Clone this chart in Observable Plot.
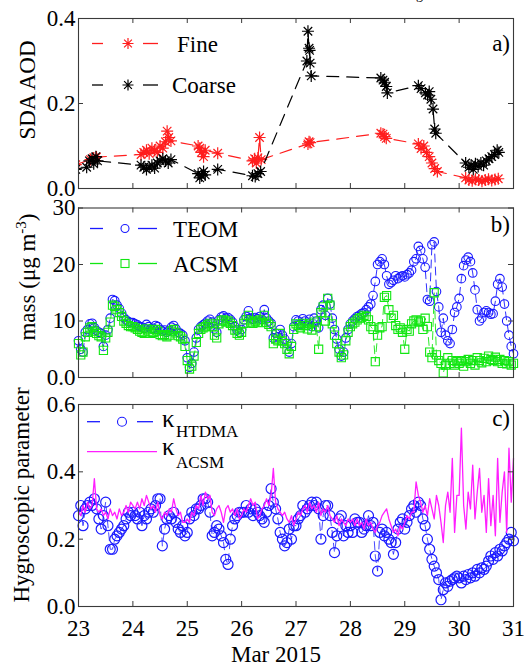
<!DOCTYPE html>
<html>
<head>
<meta charset="utf-8">
<script src="https://cdn.jsdelivr.net/npm/d3@7"></script>
<script src="https://cdn.jsdelivr.net/npm/@observablehq/plot@0.6"></script>
<style>
html,body{margin:0;padding:0;background:#fff;}
#wrap{position:relative;width:526px;height:666px;overflow:hidden;background:#fff;font-family:"Liberation Serif","Times New Roman",serif;color:#000;}
#wrap svg{position:absolute;left:0;overflow:visible;background:transparent;font-family:"Liberation Serif","Times New Roman",serif !important;}
#wrap svg text, #wrap svg tspan, #wrap svg g{font-family:"Liberation Serif","Times New Roman",serif !important;}
#cap{position:absolute;top:-23px;left:0;width:526px;height:20px;font-size:20px;line-height:20px;white-space:nowrap;}
#cap span{position:absolute;top:0;}
</style>
</head>
<body>
<div id="wrap"><div id="cap"><span style="left:-16px">ing and the</span><span style="left:133px">hygroscopic</span><span style="left:245px">properties of the</span><span style="left:390px">(κ<sub style="font-size:14px">sig</sub>)</span></div></div>
<script>
// ---------------- DATA ----------------
const xTicks = [23, 24, 25, 26, 27, 28, 29, 30, 31];
const yTicksA = [0, 0.2, 0.4];
const yTicksB = [0, 10, 20, 30];
const yTickLabelsB = ["0.0", "10", "20", "30"];
const yTicksC = [0, 0.2, 0.4, 0.6];

// panel a: SDA AOD (day of March 2015)
const fineTime = [22.95, 23.22, 23.28, 23.33, 24.15, 24.2, 24.25, 24.3, 24.35, 24.4, 24.45, 24.5, 24.55, 24.6, 24.63, 24.66, 24.7,
  25.2, 25.23, 25.26, 25.3, 25.33, 25.56, 26.2, 26.24, 26.27, 26.3, 26.33, 26.36, 27.22, 27.24, 27.26,
  28.56, 28.6, 28.63, 28.66, 29.25, 29.3, 29.35, 29.4, 29.45, 29.5, 29.55, 29.6,
  30.12, 30.18, 30.24, 30.3, 30.36, 30.42, 30.48, 30.54, 30.6, 30.66, 30.72];
const fineAOD = [0.056, 0.068, 0.072, 0.074, 0.08, 0.085, 0.09, 0.082, 0.095, 0.09, 0.085, 0.1, 0.095, 0.11, 0.135, 0.12, 0.112,
  0.1, 0.095, 0.085, 0.075, 0.09, 0.083, 0.065, 0.07, 0.06, 0.072, 0.12, 0.068, 0.105, 0.11, 0.108,
  0.13, 0.128, 0.122, 0.118, 0.105, 0.094, 0.1, 0.085, 0.075, 0.06, 0.047, 0.04,
  0.025, 0.02, 0.018, 0.022, 0.02, 0.017, 0.02, 0.022, 0.019, 0.021, 0.023];
const coarseTime = [22.95, 23.15, 23.2, 23.25, 23.28, 23.32, 23.35, 24.15, 24.2, 24.25, 24.3, 24.35, 24.4, 24.45, 24.5, 24.55, 24.6, 24.65, 24.7,
  25.2, 25.23, 25.26, 25.3, 25.33, 25.56, 26.2, 26.25, 26.3, 26.35, 27.2, 27.22, 27.24, 27.25, 27.26, 27.28,
  28.56, 28.6, 28.63, 28.66, 28.68, 29.25, 29.3, 29.38, 29.42, 29.45, 29.48, 29.52, 29.55, 29.57,
  30.12, 30.18, 30.22, 30.26, 30.3, 30.35, 30.4, 30.45, 30.5, 30.55, 30.6, 30.65, 30.7, 30.73];
const coarseAOD = [0.045, 0.05, 0.065, 0.07, 0.058, 0.075, 0.065, 0.055, 0.05, 0.045, 0.05, 0.055, 0.048, 0.06, 0.065, 0.07, 0.065, 0.06, 0.068,
  0.035, 0.025, 0.03, 0.04, 0.032, 0.045, 0.03, 0.028, 0.035, 0.04, 0.30, 0.37, 0.33, 0.325, 0.295, 0.265,
  0.26, 0.255, 0.25, 0.24, 0.225, 0.242, 0.235, 0.225, 0.22, 0.228, 0.21, 0.187, 0.14, 0.13,
  0.06, 0.05, 0.055, 0.045, 0.058, 0.052, 0.06, 0.055, 0.065, 0.07, 0.075, 0.08, 0.09, 0.085];

// hourly series starting 23 Mar 00:00, one value per hour up to 31 Mar 00:00
const seriesStartDay = 23;
const teomMass = [
  6.5, 5.0, 4.5, 8.0, 8.5, 9.5, 9.6, 8.8, 8.3, 8.0, 7.8, 5.5, 7.5, 8.5, 10.5, 13.8, 13.6, 12.8, 12.2, 11.4, 10.6, 10.2, 9.9, 9.7,
  9.7, 9.5, 9.3, 9.0, 8.9, 8.7, 9.4, 9.0, 8.6, 8.7, 9.2, 9.0, 8.5, 8.2, 8.4, 8.0, 8.3, 8.9, 9.2, 8.6, 8.0, 7.8, 7.5, 6.5,
  3.5, 1.8, 2.5, 4.5, 7.0, 8.5, 9.0, 9.3, 9.6, 10.0, 10.3, 9.8, 8.6, 8.0, 10.2, 10.7, 10.9, 10.5, 10.6, 10.3, 9.8, 9.0, 8.4, 8.0,
  8.5, 10.2, 10.8, 11.8, 10.5, 10.3, 10.6, 10.4, 10.8, 10.3, 12.0, 10.5, 10.0, 9.6, 7.0, 7.8, 7.2, 8.5, 7.5, 6.8, 6.0, 4.5, 6.0, 9.0,
  10.2, 10.0, 9.4, 10.4, 10.0, 9.2, 10.3, 9.0, 10.5, 10.0, 8.8, 12.0, 12.8, 11.0, 14.0, 13.0, 10.5, 8.5, 6.8, 5.0, 3.8, 4.5, 7.0, 8.5,
  9.5, 10.0, 10.4, 10.8, 11.0, 11.3, 11.5, 12.0, 12.5, 13.0, 14.5, 17.0, 20.0, 20.5, 21.0, 20.0, 18.0, 16.5, 16.8, 17.2, 18.0, 17.5, 17.8, 18.0,
  17.8, 18.2, 18.5, 19.0, 20.5, 21.0, 23.2, 22.5, 21.0, 19.5, 13.8, 13.5, 23.5, 24.0, 15.2, 12.5, 8.0, 10.5, 7.5, 6.5, 6.0, 8.5, 11.5, 12.5,
  14.0, 17.5, 19.8, 20.8, 21.3, 20.5, 18.5, 15.5, 12.0, 10.0, 10.5, 11.5, 11.8, 11.5, 11.2, 11.3, 13.5, 16.5, 17.5, 16.0, 13.0, 10.0, 7.5, 5.5,
  4.2];
const acsmMass = [
  6.0, 4.0, 4.5, 7.2, 8.0, 8.8, 9.0, 8.2, 7.8, 7.4, 7.2, 4.8, 7.0, 8.0, 9.8, 12.8, 12.6, 12.0, 11.5, 10.8, 10.0, 9.6, 9.2, 9.0,
  9.0, 8.8, 8.5, 8.2, 8.0, 7.8, 8.6, 8.2, 7.8, 8.0, 8.5, 8.2, 7.6, 7.4, 7.6, 7.2, 7.5, 8.2, 8.5, 7.9, 7.4, 7.2, 6.8, 5.5,
  3.0, 1.5, 2.0, 3.8, 6.2, 7.8, 8.5, 8.8, 9.0, 9.3, 9.6, 9.0, 7.5, 7.0, 9.5, 10.0, 10.2, 9.8, 10.0, 9.6, 9.2, 8.4, 7.8, 7.5,
  8.0, 9.6, 10.2, 11.0, 9.8, 9.6, 10.0, 9.8, 10.2, 9.7, 11.0, 9.8, 9.4, 9.0, 6.0, 6.8, 6.5, 7.8, 6.5, 6.0, 5.0, 4.2, 5.5, 8.5,
  9.5, 9.2, 8.8, 9.6, 9.2, 8.6, 9.5, 8.4, 9.8, 9.0, 5.0, 11.5, 12.5, 10.0, 14.0, 12.8, 9.5, 7.5, 6.0, 4.5, 3.5, 4.0, 6.5, 8.0,
  9.0, 9.5, 9.8, 10.2, 10.5, 10.6, 11.0, 10.8, 10.2, 9.0, 8.5, 2.8, 7.5, 8.8, 9.0, 14.2, 14.5, 12.0, 10.5, 11.0, 9.2, 8.5, 8.8, 8.0,
  5.0, 8.5, 8.2, 9.5, 10.0, 10.2, 9.8, 10.0, 8.5, 10.5, 9.0, 4.5, 3.5, 15.0, 4.0, 3.0, 2.5, 0.8, 2.2, 3.5, 2.5, 3.0, 2.2, 2.8,
  2.5, 3.0, 2.0, 2.8, 3.2, 2.5, 3.0, 2.2, 3.5, 3.0, 2.6, 3.4, 2.8, 3.8, 3.2, 3.0, 3.6, 2.8, 3.2, 2.5, 3.0, 2.4, 2.8, 2.2,
  2.5];
const kappaHTDMA = [
  0.27, 0.30, 0.24, 0.29, 0.30, 0.31, 0.30, 0.32, 0.29, 0.26, 0.23, 0.27, 0.31, 0.24, 0.17, 0.17, 0.20, 0.21, 0.22, 0.23, 0.24, 0.26, 0.28, 0.27,
  0.28, 0.27, 0.26, 0.28, 0.24, 0.27, 0.26, 0.28, 0.29, 0.28, 0.30, 0.32, 0.32, 0.18, 0.23, 0.26, 0.27, 0.26, 0.28, 0.25, 0.23, 0.22, 0.24, 0.21,
  0.22, 0.26, 0.28, 0.27, 0.29, 0.29, 0.30, 0.32, 0.32, 0.31, 0.28, 0.21, 0.22, 0.24, 0.23, 0.21, 0.19, 0.14, 0.125, 0.20, 0.24, 0.26, 0.27, 0.28,
  0.28, 0.28, 0.30, 0.28, 0.29, 0.27, 0.29, 0.28, 0.27, 0.26, 0.25, 0.28, 0.30, 0.35, 0.31, 0.29, 0.26, 0.22, 0.20, 0.18, 0.19, 0.23, 0.20, 0.24,
  0.24, 0.26, 0.27, 0.30, 0.28, 0.29, 0.30, 0.31, 0.30, 0.31, 0.29, 0.20, 0.27, 0.30, 0.30, 0.27, 0.22, 0.16, 0.21, 0.26, 0.27, 0.21, 0.24, 0.22,
  0.24, 0.22, 0.26, 0.25, 0.25, 0.22, 0.23, 0.24, 0.27, 0.24, 0.25, 0.15, 0.105, 0.22, 0.23, 0.21, 0.22, 0.20, 0.19, 0.155, 0.19, 0.23, 0.25, 0.26,
  0.23, 0.25, 0.27, 0.29, 0.30, 0.28, 0.31, 0.30, 0.26, 0.24, 0.20, 0.17, 0.14, 0.12, 0.10, 0.08, 0.02, 0.05, 0.07, 0.06, 0.075, 0.08, 0.085, 0.09,
  0.085, 0.07, 0.09, 0.08, 0.095, 0.085, 0.10, 0.09, 0.11, 0.10, 0.115, 0.11, 0.12, 0.135, 0.15, 0.14, 0.16, 0.15, 0.17, 0.165, 0.18, 0.19, 0.20, 0.22,
  0.195];
const kappaACSM = [
  0.28, 0.27, 0.30, 0.28, 0.31, 0.29, 0.30, 0.38, 0.29, 0.28, 0.29, 0.27, 0.28, 0.26, 0.29, 0.27, 0.28, 0.26, 0.29, 0.27, 0.28, 0.30, 0.28, 0.31,
  0.30, 0.29, 0.31, 0.29, 0.32, 0.30, 0.33, 0.31, 0.29, 0.30, 0.28, 0.31, 0.27, 0.26, 0.28, 0.27, 0.29, 0.28, 0.32, 0.29, 0.27, 0.28, 0.25, 0.25,
  0.26, 0.25, 0.28, 0.27, 0.30, 0.29, 0.33, 0.30, 0.34, 0.32, 0.33, 0.28, 0.27, 0.29, 0.30, 0.28, 0.25, 0.29, 0.30, 0.28, 0.29, 0.27, 0.29, 0.26,
  0.27, 0.29, 0.28, 0.30, 0.32, 0.30, 0.31, 0.26, 0.27, 0.29, 0.30, 0.32, 0.30, 0.33, 0.41, 0.31, 0.29, 0.28, 0.27, 0.28, 0.26, 0.25, 0.27, 0.24,
  0.26, 0.28, 0.27, 0.29, 0.30, 0.28, 0.31, 0.29, 0.30, 0.28, 0.31, 0.27, 0.29, 0.28, 0.30, 0.27, 0.26, 0.25, 0.27, 0.24, 0.26, 0.25, 0.24, 0.26,
  0.25, 0.26, 0.24, 0.26, 0.24, 0.25, 0.23, 0.26, 0.24, 0.25, 0.23, 0.22, 0.24, 0.25, 0.27, 0.28, 0.29, 0.26, 0.24, 0.22, 0.23, 0.21, 0.24, 0.23,
  0.25, 0.27, 0.26, 0.28, 0.28, 0.37, 0.33, 0.31, 0.28, 0.30, 0.27, 0.32, 0.29, 0.26, 0.33, 0.30, 0.25, 0.19, 0.30, 0.34, 0.28, 0.44, 0.22, 0.33,
  0.33, 0.53, 0.30, 0.23, 0.34, 0.29, 0.42, 0.26, 0.34, 0.41, 0.28, 0.33, 0.22, 0.38, 0.24, 0.33, 0.21, 0.44, 0.25, 0.34, 0.40, 0.22, 0.47, 0.31,
  0.44];

// ---------------- STYLE / LAYOUT ----------------
const RED = "#ff1e1e", BLACK = "#000000", BLUE = "#1a1aff", GREEN = "#12e612", MAGENTA = "#ff1eff", AXIS = "#3a3a3a";
const W = 526, ML = 78, MR = 13, PW = W - ML - MR;
const FS = 23;
const SERIF = '"Liberation Serif", "Times New Roman", serif';

const asterisk8 = {
  draw(ctx, size) {
    const r = Math.sqrt(size / Math.PI), a = r * Math.SQRT1_2;
    ctx.moveTo(-r, 0); ctx.lineTo(r, 0);
    ctx.moveTo(0, -r); ctx.lineTo(0, r);
    ctx.moveTo(-a, -a); ctx.lineTo(a, a);
    ctx.moveTo(-a, a); ctx.lineTo(a, -a);
  }
};

const fine = fineTime.map((t, i) => ({t, v: fineAOD[i]}));
const coarse = coarseTime.map((t, i) => ({t, v: coarseAOD[i]}));
const hourly = teomMass.map((v, i) => ({
  t: seriesStartDay + i / 24, teom: v, acsm: acsmMass[i], kh: kappaHTDMA[i], ka: kappaACSM[i]
}));

function frameMarks(yt, plotH) {
  return [
    Plot.tickX(xTicks, {x: d => d, insetTop: plotH - 5, stroke: AXIS}),
    Plot.tickX(xTicks, {x: d => d, insetBottom: plotH - 5, stroke: AXIS}),
    Plot.tickY(yt, {y: d => d, insetRight: PW - 5, stroke: AXIS}),
    Plot.tickY(yt, {y: d => d, insetLeft: PW - 5, stroke: AXIS}),
    Plot.frame({stroke: AXIS, strokeWidth: 1.1})
  ];
}
const baseStyle = {background: "transparent", overflow: "visible", fontFamily: SERIF};
const wrap = document.getElementById("wrap");

// ---------- panel a ----------
const hA = 200, mtA = 18, mbA = 12;
const panelA = Plot.plot({
  width: W, height: hA, marginTop: mtA, marginBottom: mbA, marginLeft: ML, marginRight: MR,
  style: baseStyle,
  x: {domain: [23, 31], axis: null},
  y: {domain: [0, 0.4], axis: null},
  marks: [
    Plot.line(fine, {x: "t", y: "v", stroke: RED, strokeWidth: 1.2, strokeDasharray: "12,8", clip: true}),
    Plot.dot(fine, {x: "t", y: "v", symbol: asterisk8, r: 6, stroke: RED, fill: "none", strokeWidth: 1.2, clip: true}),
    Plot.line(coarse, {x: "t", y: "v", stroke: BLACK, strokeWidth: 1.2, strokeDasharray: "12,8", clip: true}),
    Plot.dot(coarse, {x: "t", y: "v", symbol: asterisk8, r: 6, stroke: BLACK, fill: "none", strokeWidth: 1.2, clip: true}),
    ...frameMarks(yTicksA, hA - mtA - mbA),
    Plot.axisY({ticks: yTicksA, tickSize: 0, tickPadding: 3, tickFormat: d3.format(".1f"), fontSize: FS, fontFamily: SERIF, label: null})
  ]
});
panelA.style.top = "0px";
wrap.appendChild(panelA);

// ---------- panel b ----------
const topB = 195, hB = 195, mtB = 12.5, mbB = 13;
const panelB = Plot.plot({
  width: W, height: hB, marginTop: mtB, marginBottom: mbB, marginLeft: ML, marginRight: MR,
  style: baseStyle,
  x: {domain: [23, 31], axis: null},
  y: {domain: [0, 30], axis: null},
  marks: [
    Plot.line(hourly, {x: "t", y: "teom", stroke: BLUE, strokeWidth: 0.9, strokeDasharray: "8,5"}),
    Plot.dot(hourly, {x: "t", y: "teom", r: 4.3, stroke: BLUE, fill: "none", strokeWidth: 1.1}),
    Plot.line(hourly, {x: "t", y: "acsm", stroke: GREEN, strokeWidth: 0.9, strokeDasharray: "8,5"}),
    Plot.dot(hourly, {x: "t", y: "acsm", symbol: "square", r: 4.6, stroke: GREEN, fill: "none", strokeWidth: 1.1}),
    ...frameMarks(yTicksB, hB - mtB - mbB),
    Plot.axisY({ticks: yTicksB, tickSize: 0, tickPadding: 3, tickFormat: d => yTickLabelsB[yTicksB.indexOf(d)], fontSize: FS, fontFamily: SERIF, label: null})
  ]
});
panelB.style.top = topB + "px";
wrap.appendChild(panelB);

// ---------- panel c ----------
const topC = 385, hC = 281, mtC = 19, mbC = 60;
const panelC = Plot.plot({
  width: W, height: hC, marginTop: mtC, marginBottom: mbC, marginLeft: ML, marginRight: MR,
  style: baseStyle,
  x: {domain: [23, 31], axis: null},
  y: {domain: [0, 0.6], axis: null},
  marks: [
    Plot.line(hourly, {x: "t", y: "kh", stroke: BLUE, strokeWidth: 0.8, strokeDasharray: "8,5"}),
    Plot.dot(hourly, {x: "t", y: "kh", r: 5, stroke: BLUE, fill: "none", strokeWidth: 1.2}),
    Plot.line(hourly, {x: "t", y: "ka", stroke: MAGENTA, strokeWidth: 1.3}),
    ...frameMarks(yTicksC, hC - mtC - mbC),
    Plot.axisY({ticks: yTicksC, tickSize: 0, tickPadding: 3, tickFormat: d3.format(".1f"), fontSize: FS, fontFamily: SERIF, label: null}),
    Plot.axisX({ticks: xTicks, tickSize: 0, tickPadding: 13, tickFormat: d => String(d), fontSize: FS, fontFamily: SERIF, label: null})
  ]
});
panelC.style.top = topC + "px";
wrap.appendChild(panelC);

// ---------------- annotations (legends, titles) ----------------
function txt(svg, x, y, s, size, anchor) {
  return svg.append("text").attr("x", x).attr("y", y).attr("font-size", size || FS).attr("font-family", SERIF)
    .attr("fill", "#000").attr("text-anchor", anchor || "start").text(s);
}
function vtxt(svg, x, y, s) {
  return svg.append("text").attr("transform", `translate(${x},${y}) rotate(-90)`).attr("font-family", SERIF)
    .attr("font-size", FS).attr("fill", "#000").attr("text-anchor", "middle").text(s);
}
function dashPair(svg, y, color, x1, x2, x3, x4) {
  svg.append("line").attr("x1", x1).attr("x2", x2).attr("y1", y).attr("y2", y).attr("stroke", color).attr("stroke-width", 1.3);
  svg.append("line").attr("x1", x3).attr("x2", x4).attr("y1", y).attr("y2", y).attr("stroke", color).attr("stroke-width", 1.3);
}
function astPath(r) {
  const a = r * Math.SQRT1_2;
  return `M${-r},0L${r},0M0,${-r}L0,${r}M${-a},${-a}L${a},${a}M${-a},${a}L${a},${-a}`;
}

const sA = d3.select(panelA), sB = d3.select(panelB), sC = d3.select(panelC);

// panel a
dashPair(sA, 43.5, RED, 92, 103, 143, 158);
sA.append("path").attr("d", astPath(5.5)).attr("transform", "translate(128,43.5)").attr("stroke", RED).attr("stroke-width", 1.2).attr("fill", "none");
txt(sA, 177, 52, "Fine");
dashPair(sA, 85, BLACK, 92, 103, 143, 158);
sA.append("path").attr("d", astPath(5.5)).attr("transform", "translate(128,85)").attr("stroke", BLACK).attr("stroke-width", 1.2).attr("fill", "none");
txt(sA, 172, 93, "Coarse");
txt(sA, 510, 51, "a)", FS, "end");
vtxt(sA, 35, 90, "SDA AOD");

// panel b
dashPair(sB, 33.5, BLUE, 90, 103, 138, 157);
sB.append("circle").attr("cx", 125).attr("cy", 33.5).attr("r", 4).attr("stroke", BLUE).attr("fill", "none").attr("stroke-width", 1.1);
txt(sB, 173, 42, "TEOM");
dashPair(sB, 68.5, GREEN, 90, 103, 138, 157);
sB.append("rect").attr("x", 121).attr("y", 64.5).attr("width", 8).attr("height", 8).attr("stroke", GREEN).attr("fill", "none").attr("stroke-width", 1.1);
txt(sB, 173, 77, "ACSM");
txt(sB, 510, 37, "b)", FS, "end");
{
  const t = sB.append("text").attr("transform", `translate(35,${277 - topB}) rotate(-90)`).attr("font-family", SERIF)
    .attr("font-size", FS).attr("fill", "#000").attr("text-anchor", "middle");
  t.append("tspan").text("mass (μg m");
  t.append("tspan").attr("font-size", 15).attr("dy", -9).text("-3");
  t.append("tspan").attr("dy", 9).text(")");
}

// panel c
dashPair(sC, 36.7, BLUE, 87, 100, 137, 153);
sC.append("circle").attr("cx", 122).attr("cy", 36.7).attr("r", 4.5).attr("stroke", BLUE).attr("fill", "none").attr("stroke-width", 1.1);
txt(sC, 162, 42, "κ", 25);
txt(sC, 176, 52, "HTDMA", 17);
sC.append("line").attr("x1", 87).attr("x2", 157).attr("y1", 66.7).attr("y2", 66.7).attr("stroke", MAGENTA).attr("stroke-width", 1.3);
txt(sC, 162, 70, "κ", 25);
txt(sC, 176, 83, "ACSM", 17);
txt(sC, 510, 41, "c)", FS, "end");
vtxt(sC, 29, 495 - topC, "Hygroscopic parameter");
txt(sC, 276, 277, "Mar 2015", FS, "middle");
</script>
</body>
</html>
